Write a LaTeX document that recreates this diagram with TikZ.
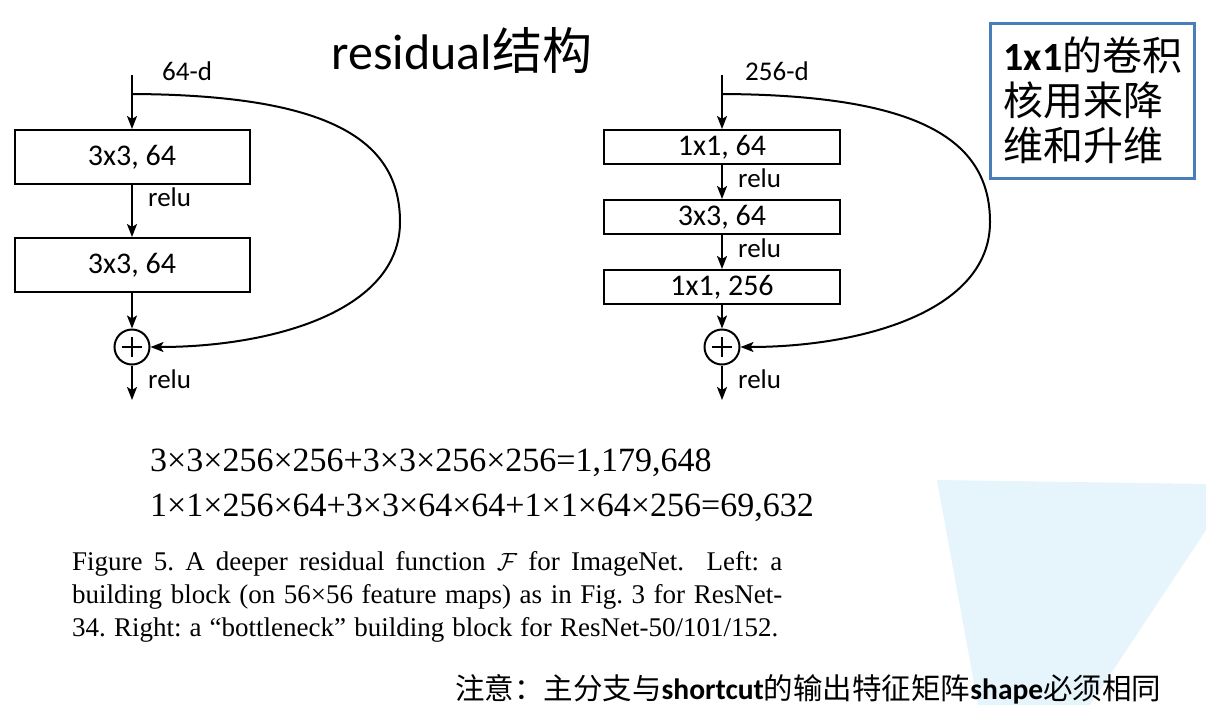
\documentclass[tikz,border=0pt]{standalone}
\usepackage{fontspec}
\setmainfont{Carlito}
\newfontfamily\cjk{Noto Sans CJK SC}
\newfontfamily\timesfont{Liberation Serif}
\usetikzlibrary{
  arrows.meta,
  positioning,
  calc
}
\definecolor{noteblue}{RGB}{74,126,187}
\definecolor{shadeblue}{RGB}{230,244,252}
\frenchspacing

\begin{document}
\begin{tikzpicture}[x=1pt,y=-1pt,
  conv/.style={draw,line width=2pt,minimum width=235pt,inner sep=0pt,
    font=\fontsize{30}{30}\selectfont},
  flow/.style={line width=2pt,-{Stealth[length=13pt,width=10pt,inset=3pt]}},
  addop/.style={draw,circle,line width=2pt,minimum size=35pt,inner sep=0pt,
    path picture={
      \draw[line width=1.8pt]
        ([xshift=-10pt]path picture bounding box.center) -- ([xshift=10pt]path picture bounding box.center)
        ([yshift=-10pt]path picture bounding box.center) -- ([yshift=10pt]path picture bounding box.center);
    }},
  lbl/.style={anchor=west,inner sep=0pt,font=\fontsize{27}{27}\selectfont},
  eqn/.style={anchor=base west,inner sep=0pt,font=\timesfont\fontsize{34}{34}\selectfont},
  capline/.style={anchor=base west,inner sep=0pt,font=\timesfont\fontsize{27}{27}\selectfont}]
  \useasboundingbox (0,0) rectangle (1206,705);
  \fill[white] (0,0) rectangle (1206,705);
  \fill[shadeblue] (937,480) -- (1206,484) -- (1206,530) -- (1090,705) -- (978,705) -- cycle;

  % title and note
  \node[anchor=base,inner sep=0pt,font=\fontsize{50}{50}\selectfont] (title) at (462,69)
    {residual{\cjk 结构}};
  \node[draw=noteblue,line width=3pt,align=left,text width=178pt,inner xsep=13pt,
    minimum height=155pt,font=\fontsize{40}{45}\selectfont] (note) at (1092.5,100.5)
    {{\bfseries 1x1}{\cjk 的卷积}\\{\cjk 核用来降}\\{\cjk 维和升维}};

  % left: basic block
  \coordinate (lin) at (132,75);
  \coordinate (lsplit) at (132,94);
  \node[conv,minimum height=54pt] (lc1) at (132,157) {3x3, 64};
  \node[conv,minimum height=54pt] (lc2) at (132,265) {3x3, 64};
  \node[addop] (lsum) at (132,347) {};
  \coordinate (lout) at (132,400);
  \draw[line width=2pt] (lin) -- (lsplit);
  \draw[flow] (lsplit) -- (lc1);
  \draw[flow] (lc1) -- (lc2);
  \draw[flow] (lc2) -- (lsum);
  \draw[flow] (lsum) -- (lout);
  \draw[flow] (lsplit) .. controls (330,95) and (400,140) .. (400,222)
    .. controls (400,312) and (270,347) .. (lsum);
  \node[lbl] (ldim) at (162,71) {64-d};
  \node[lbl] (lrelu1) at (148,197) {relu};
  \node[lbl] (lrelu2) at (148,379) {relu};

  % right: bottleneck block
  \coordinate (rin) at (722,75);
  \coordinate (rsplit) at (722,94);
  \node[conv,minimum height=34pt,minimum width=236pt] (rc1) at (722,147) {1x1, 64};
  \node[conv,minimum height=34pt,minimum width=236pt] (rc2) at (722,217) {3x3, 64};
  \node[conv,minimum height=34pt,minimum width=236pt] (rc3) at (722,287) {1x1, 256};
  \node[addop] (rsum) at (722,347) {};
  \coordinate (rout) at (722,400);
  \draw[line width=2pt] (rin) -- (rsplit);
  \draw[flow] (rsplit) -- (rc1);
  \draw[flow] (rc1) -- (rc2);
  \draw[flow] (rc2) -- (rc3);
  \draw[flow] (rc3) -- (rsum);
  \draw[flow] (rsum) -- (rout);
  \draw[flow] (rsplit) .. controls (920,95) and (990,140) .. (990,222)
    .. controls (990,312) and (860,347) .. (rsum);
  \node[lbl] (rdim) at (745,71) {256-d};
  \node[lbl] (rrelu1) at (738,178) {relu};
  \node[lbl] (rrelu2) at (738,248) {relu};
  \node[lbl] (rrelu3) at (738,379) {relu};

  % parameter counts
  \node[eqn] (eqa) at (150,471) {3×3×256×256+3×3×256×256=1,179,648};
  \node[eqn] (eqb) at (150,516) {1×1×256×64+3×3×64×64+1×1×64×256=69,632};

  % caption
  \node[capline] (cap1) at (72,570)
    {\makebox[710pt][s]{Figure 5. A deeper residual function $\mathcal{F}$ for ImageNet.\ \ Left: a}};
  \node[capline] (cap2) at (72,603)
    {\makebox[710pt][s]{building block (on 56×56 feature maps) as in Fig. 3 for ResNet-}};
  \node[capline] (cap3) at (72,636)
    {\makebox[706pt][s]{34. Right: a “bottleneck” building block for ResNet-50/101/152.}};

  % remark
  \node[anchor=base west,inner sep=0pt,font=\fontsize{29.5}{29.5}\selectfont] (remark) at (455,699)
    {{\cjk 注意：主分支与}\textbf{shortcut}{\cjk 的输出特征矩阵}\textbf{shape}{\cjk 必须相同}};
\end{tikzpicture}
\end{document}
